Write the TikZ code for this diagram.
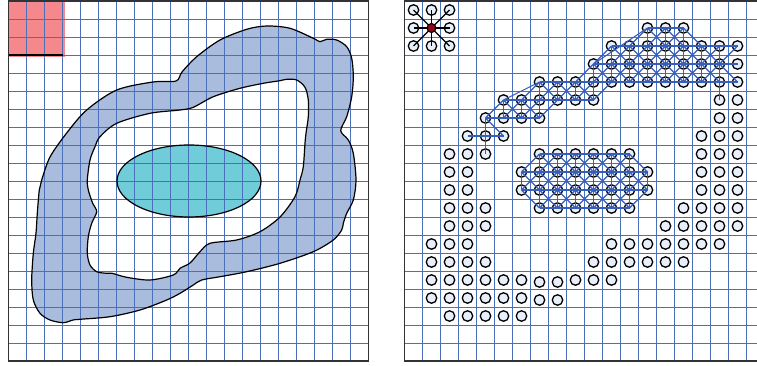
\documentclass[tikz,border=0pt]{standalone}
\definecolor{gridc}{RGB}{74,112,186}
\definecolor{bandc}{RGB}{169,188,221}
\definecolor{cyanc}{RGB}{112,204,217}
\definecolor{redc}{RGB}{245,136,140}
\definecolor{framec}{RGB}{50,50,55}
\definecolor{ptfill}{RGB}{232,239,250}
\definecolor{edgec}{RGB}{55,95,185}
\definecolor{centc}{RGB}{140,10,20}
\tikzset{
 pt/.style={circle,draw=black,fill=ptfill,line width=1.3pt,inner sep=0pt,minimum size=10.5pt},
 ctr/.style={circle,draw=black,fill=centc,line width=1.1pt,inner sep=0pt,minimum size=9pt},
 edge/.style={draw=edgec,line width=1.1pt},
 kedge/.style={draw=black,line width=1.1pt},
 gridl/.style={draw=gridc,line width=0.9pt},
 frame/.style={draw=framec,line width=1.6pt},
 outline/.style={draw=black,line width=1.2pt},
}
\begin{document}
\begin{tikzpicture}[x=1pt,y=-1pt]
\clip (0,0) rectangle (757,366);
\fill[white] (0,0) rectangle (757,366);
% ---------- left panel fills ----------
\fill[redc] (8.5,1) rectangle (64.5,57);
\def\outerpts{(41.7,180) (50,157) (66.7,133) (86.7,110) (116.7,90) (153,82) (176,81) (182,72) (196.7,56.7) (220,40) (246.7,29.3) (266.7,26) (290,28.3) (313.3,38.3) (320,41.7) (326.7,39.3) (336.7,40) (346.7,46.7) (351.7,58.3) (353.3,76.7) (351.7,96.7) (346.7,116.7) (340.7,130.7) (348.3,140) (353.3,153.3) (356,180) (353.3,200) (346.7,213.3) (343.3,223.3) (341.7,230) (333.3,240) (313.3,251.7) (280,263.3) (246.7,271.7) (220,276.7) (201.7,280) (193.3,285) (180,293.3) (166.7,300) (140,310) (110,316.7) (80,319.3) (73,320) (63.3,322.7) (50,320) (40,313.3) (33.3,300) (31.7,280) (33.3,253.3) (36,233.3) (37.3,213.3) (39.3,190)}
\def\innerpts{(87.3,180) (90,160) (95,146.7) (100,136.7) (116.7,123.3) (150,113.3) (180,110) (193.3,107.3) (213.3,96.7) (240,88.3) (263.3,83.3) (280,80.7) (286.7,79.3) (296.7,80) (305,87.3) (308.3,100) (308.3,116.7) (306,133.3) (305,143.3) (303.3,166.7) (300,180) (295,196.7) (280,217) (260,231.7) (236.7,240) (210,243.3) (200,251.7) (190,263) (180,268.3) (173.3,275) (150,280) (126.7,277.3) (112,273.3) (106.7,273.3) (96.7,271.7) (90,265) (87.3,253.3) (88.3,236.7) (91.7,223.3) (96.7,211.7) (92.7,203.3) (88.3,190)}
\fill[bandc] plot[smooth cycle,tension=0.5] coordinates {\outerpts};
\fill[white] plot[smooth cycle,tension=0.5] coordinates {\innerpts};
\fill[cyanc] (189,181) ellipse (72 and 36);
% ---------- grids ----------
\foreach \i in {1,...,19}{
  \draw[gridl] ({8.5+18*\i},1) -- ({8.5+18*\i},361);
  \draw[gridl] (8.5,{1+18*\i}) -- (368.5,{1+18*\i});
  \draw[gridl] ({404.5+18*\i},1) -- ({404.5+18*\i},361);
  \draw[gridl] (404.5,{1+18*\i}) -- (764.5,{1+18*\i});
}
% ---------- left outlines ----------
\draw[outline] plot[smooth cycle,tension=0.5] coordinates {\outerpts};
\draw[outline] plot[smooth cycle,tension=0.5] coordinates {\innerpts};
\draw[outline] (189,181) ellipse (72 and 36);
\draw[black,line width=1.3pt] (8.5,55) -- (62.5,55);
% ---------- frames ----------
\draw[frame] (8.5,1) rectangle (368.5,361);
\draw[frame] (404.5,1) rectangle (764.5,361);
% ---------- right panel circles ----------
\foreach \r/\a/\b in {0/0/2, 2/0/2, 1/13/15, 2/11/18, 3/10/18, 4/7/18, 5/5/10, 5/17/18, 6/4/7, 6/17/18, 7/3/5, 7/16/18, 8/2/4, 8/7/12, 8/16/18, 9/2/3, 9/6/13, 9/16/18, 10/2/3, 10/6/13, 10/16/18, 11/2/4, 11/7/12, 11/15/18, 12/2/4, 12/14/18, 13/1/3, 13/11/17, 14/1/4, 14/10/15, 15/1/6, 15/9/11, 16/1/6, 17/2/6}{
  \foreach \c in {\a,...,\b}
    \node[pt] (n-\c-\r) at ({413.5+18*\c},{10+18*\r}) {};
}
\node[pt] (n-0-1) at (413.5,28) {};
\node[pt] (n-2-1) at (449.5,28) {};
\foreach \r in {15,16}{
  \foreach \c in {7,8}
    \node[pt] (n-\c-\r) at ({413.5+18*\c},{12+18*\r}) {};
}
% ---------- stencil ----------
\coordinate (cc) at (431.5,28);
\foreach \c/\r in {0/0,1/0,2/0,0/1,2/1,0/2,1/2,2/2}
  \draw[kedge] (cc) -- (n-\c-\r.center);
\node[ctr] (n-1-1) at (cc) {};
% ---------- blue graph edges ----------
% horizontal
\foreach \r/\a/\b in {1/13/14, 2/11/17, 3/10/17, 4/7/17, 5/5/9, 6/4/6, 7/3/4, 8/7/11, 9/6/12, 10/6/12, 11/7/11}{
  \foreach \c [evaluate=\c as \d using {int(\c+1)}] in {\a,...,\b}
    \draw[edge] (n-\c-\r.center) -- (n-\d-\r.center);
}
% vertical
\foreach \r/\a/\b in {1/13/15, 2/11/17, 3/10/17, 4/7/10, 4/17/17, 5/5/7, 6/4/4, 7/4/4, 8/7/12, 9/6/13, 10/7/12}{
  \foreach \c [evaluate=\c as \s using {int(\r+1)}] in {\a,...,\b}
    \draw[edge] (n-\c-\r.center) -- (n-\c-\s.center);
}
% diagonal down-right
\foreach \r/\a/\b in {1/13/15, 2/11/16, 3/10/17, 4/7/9, 5/5/6, 6/4/4, 8/7/12, 9/6/12, 10/6/11}{
  \foreach \c [evaluate=\c as \d using {int(\c+1)}, evaluate=\c as \s using {int(\r+1)}] in {\a,...,\b}
    \draw[edge] (n-\c-\r.center) -- (n-\d-\s.center);
}
% diagonal down-left
\foreach \r/\a/\b in {1/13/15, 2/11/18, 3/10/17, 4/7/11, 5/5/8, 8/7/12, 9/7/13, 10/8/13}{
  \foreach \c [evaluate=\c as \d using {int(\c-1)}, evaluate=\c as \s using {int(\r+1)}] in {\a,...,\b}
    \draw[edge] (n-\c-\r.center) -- (n-\d-\s.center);
}
\draw[edge] (n-10-3.center) -- (n-13-1.center);
\draw[edge] (n-5-5.center) -- (n-7-4.center);
\end{tikzpicture}
\end{document}
